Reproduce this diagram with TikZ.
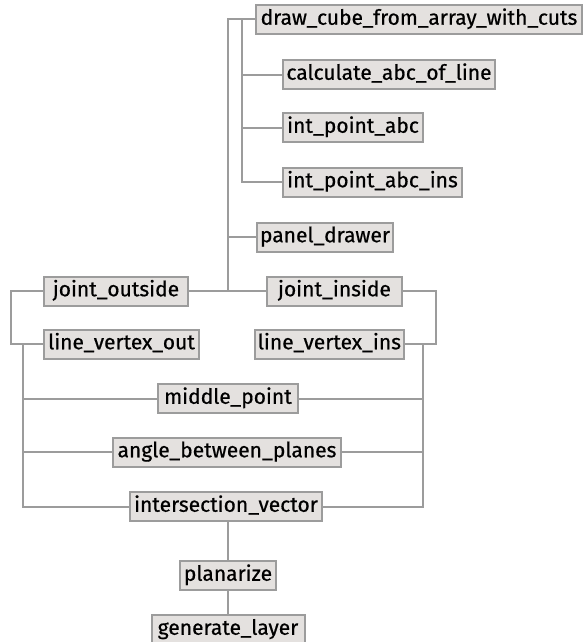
\documentclass[tikz,border=0pt]{standalone}
\usepackage{fontspec}
\setmainfont{Fira Sans}
\newfontfamily\fnfont{Fira Sans}[BoldFont=Fira Sans, BoldFeatures={FakeBold=0.6}]
\usetikzlibrary{positioning}

\definecolor{boxfill}{HTML}{E4E1DF}
\definecolor{boxline}{HTML}{9C9C9C}
\definecolor{wireline}{HTML}{9C9C9C}

\tikzset{
  fn/.style={draw=boxline, fill=boxfill, line width=2pt,
    font=\fnfont\bfseries\fontsize{21}{23}\selectfont, minimum height=29pt,
    text height=15pt, text depth=4.5pt, inner xsep=3pt, inner ysep=0pt},
  wire/.style={draw=wireline, line width=2pt}
}

\begin{document}
\begin{tikzpicture}[x=1pt, y=-1pt, node distance=23pt]
    \useasboundingbox (0,0) rectangle (585,642);

    % upper part
    \node[fn, anchor=west, minimum width=326pt] (cube)  at (255,19.5) {draw\_cube\_from\_array\_with\_cuts};
    \node[fn, anchor=west, minimum width=212pt] (calc)  at (282,74.5) {calculate\_abc\_of\_line};
    \node[fn, anchor=west, minimum width=140pt] (ipabc) at (282,127.5) {int\_point\_abc};
    \node[fn, anchor=west, minimum width=179pt] (ipins) at (282,182) {int\_point\_abc\_ins};
    \node[fn, anchor=west, minimum width=136pt] (panel) at (256,237) {panel\_drawer};

    % joints
    \node[fn, anchor=west, minimum width=144pt] (jout)  at (43,291) {joint\_outside};
    \node[fn, anchor=east, minimum width=135pt] (jin)   at (403,291) {joint\_inside};
    \node[fn, anchor=west, minimum width=155pt] (lvout) at (43,344) {line\_vertex\_out};
    \node[fn, anchor=east, minimum width=149pt] (lvins) at (405,344) {line\_vertex\_ins};

    % lower part
    \node[fn, minimum width=140pt] (mid)   at (228,398.5) {middle\_point};
    \node[fn, minimum width=228pt] (angle) at (227,452) {angle\_between\_planes};
    \node[fn, minimum width=192pt] (inter) at (226,506.5) {intersection\_vector};
    \node[fn, minimum width=96pt]  (plan)  [below=38pt of inter, xshift=2pt] {planarize};
    \node[fn, minimum width=153pt] (gen)   [below=of plan] {generate\_layer};

    \coordinate (hub)  at (228,291);
    \coordinate (fork) at (242,19.5);
    \coordinate (lout) at (11,318);
    \coordinate (rout) at (436,318);
    \coordinate (lbus) at (23,344);
    \coordinate (rbus) at (423,344);

    \draw[wire] (cube.west) -| (hub);
    \draw[wire] (jout.east) -- (jin.west);
    \draw[wire] (panel.west) -- (panel.west -| hub);
    \draw[wire] (ipins.west) -| (fork);
    \foreach \n in {calc, ipabc}
        \draw[wire] (\n.west) -- (\n.west -| fork);

    \draw[wire] (jout.west) -| (lout) |- (lvout.west);
    \draw[wire] (jin.east) -| (rout) |- (lvins.east);
    \draw[wire] (inter.west) -| (lbus);
    \draw[wire] (inter.east) -| (rbus);
    \foreach \n in {mid, angle} {
        \draw[wire] (\n.west) -- (\n.west -| lbus);
        \draw[wire] (\n.east) -- (\n.east -| rbus);
    }

    \draw[wire] (inter.south -| hub) -- (plan.north -| hub);
    \draw[wire] (plan.south -| hub) -- (gen.north -| hub);
\end{tikzpicture}
\end{document}
